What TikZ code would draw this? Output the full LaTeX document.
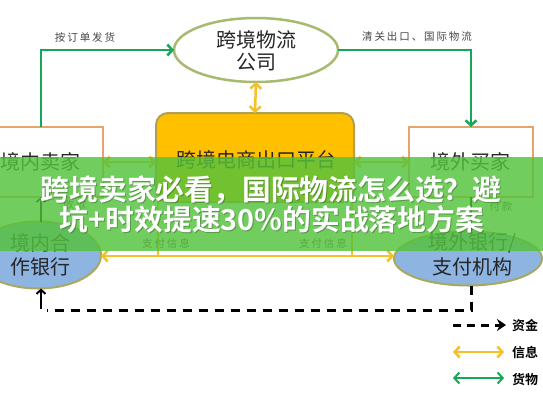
\documentclass[tikz,border=0pt]{standalone}
\usepackage{fontspec}
\setmainfont{Noto Sans CJK SC}[BoldFont={Noto Sans CJK SC Bold}]
\newfontfamily\labfont[LetterSpace=18]{Noto Sans CJK SC}
\usetikzlibrary{shapes.geometric,arrows.meta}
\definecolor{gline}{RGB}{24,166,88}
\definecolor{yline}{RGB}{246,192,40}
\definecolor{oline}{RGB}{232,164,104}
\definecolor{olive}{RGB}{166,186,112}
\definecolor{platfill}{RGB}{255,192,0}
\definecolor{platline}{RGB}{176,160,84}
\definecolor{bankfill}{RGB}{142,180,226}
\definecolor{bankline}{RGB}{168,168,96}
\definecolor{banner}{RGB}{84,194,60}
\definecolor{labgray}{RGB}{70,70,70}
\begin{document}
\begin{tikzpicture}[x=1pt,y=-1pt,
  every node/.style={inner sep=0pt,outer sep=0pt},
  boxnode/.style={draw=oline,line width=2.5pt,fill=white,minimum width=124pt,minimum height=70pt},
  ellnode/.style={ellipse,draw=olive,line width=2.5pt,fill=white},
  banknode/.style={ellipse,draw=bankline,line width=2pt,fill=bankfill},
  platnode/.style={draw=platline,line width=2pt,fill=platfill,rounded corners=12pt,minimum width=198pt,minimum height=89pt},
  bigtxt/.style={font=\fontsize{20}{22}\selectfont,text=black!85,align=center},
  labtxt/.style={font=\labfont\fontsize{10.5}{12}\selectfont,text=labgray},
  legtxt/.style={font=\bfseries\fontsize{13}{15}\selectfont,text=black,anchor=west},
  garrow/.style={draw=gline,line width=2.5pt,-{Straight Barb[length=5pt,width=11pt]}},
  yarrow/.style={draw=yline,line width=2.5pt,{Straight Barb[length=5pt,width=11pt]}-{Straight Barb[length=5pt,width=11pt]}},
  gdarrow/.style={draw=gline,line width=2pt,{Straight Barb[length=5pt,width=11pt]}-{Straight Barb[length=5pt,width=11pt]}},
  karrow/.style={draw=black,line width=1.6pt,-{Straight Barb[length=4pt,width=9pt]}},
  money/.style={draw=black,line width=3pt,dash pattern=on 9pt off 7pt},
  titletxt/.style={font=\bfseries\fontsize{28.8}{29}\selectfont,text=white}]
\clip (0,0) rectangle (543,408);
\fill[white] (0,0) rectangle (543,408);
% nodes
\node[ellnode,minimum width=164pt,minimum height=64pt] (lc) at (256,50) {};
\node[bigtxt] (lct) at (256,51) {跨境物流\\公司};
\node[boxnode] (s) at (41,162) {};
\node[bigtxt] (st) at (41,162) {境内卖家};
\node[boxnode] (b) at (471,162) {};
\node[bigtxt] (bt) at (470,162) {境外买家};
\node[platnode] (p) at (255,157.5) {};
\node[bigtxt] (pt) at (256,160) {跨境电商出口平台};
\node[banknode,minimum width=126pt,minimum height=67pt] (lb) at (38,255) {};
\node[bigtxt,font=\fontsize{20}{24}\selectfont] (lbt) at (40,255) {境内合\\作银行};
\node[banknode,minimum width=148pt,minimum height=54pt] (rb) at (468,258.5) {};
\node[bigtxt,font=\fontsize{20}{25}\selectfont] (rbt) at (472,254.5) {境外银行/\\支付机构};
% goods flow
\draw[garrow] (s.north) |- (lc.west);
\draw[garrow] (lc.east) -| (b.north);
\node[labtxt] (l1) at (85,37) {按订单发货};
\node[labtxt] (l2) at (417,37) {清关出口、国际物流};
% info flow
\draw[yarrow] (lc.south) -- (p.north);
\draw[yarrow] (s.east) -- (s.east -| p.west);
\draw[yarrow] (b.west -| p.east) -- (b.west);
\coordinate (pl) at (158,201);
\coordinate (pr) at (352,201);
\coordinate (yl) at (158,256);
\coordinate (yr) at (352,256);
\draw[yline,line width=1.5pt] (pl) -- (yl);
\draw[yline,line width=1.5pt] (pr) -- (yr);
\draw[yarrow] (lb.east |- yl) -- (rb.west |- yr);
\node[labtxt] (l3) at (166,243) {支付信息};
\node[labtxt] (l4) at (323,243) {支付信息};
% money flow
\draw[karrow] (lb.north -| s.south) -- (s.south);
\node[labtxt] (l5) at (75,205) {收款};
\draw[karrow] (b.south) -- (b.south |- rb.north);
\node[labtxt] (l6) at (501,207) {付款};
\coordinate (m1) at (471,310);
\coordinate (m2) at (47,310);
\coordinate (m3) at (41,309);
\draw[money] (rb.south -| m1) -- (m1) -- (m2);
\draw[karrow,line width=2pt] (m3) -- (m3 |- lb.south);
% legend
\coordinate (la1) at (453,325); \coordinate (la2) at (506,325);
\draw[money,dash pattern=on 8pt off 6pt,-{Stealth[length=9pt,width=12pt]}] (la1) -- (la2);
\node[legtxt] (lg1) at (512,325) {资金};
\coordinate (lb1) at (453,352); \coordinate (lb2) at (504,352);
\draw[yarrow] (lb1) -- (lb2);
\node[legtxt] (lg2) at (512,352) {信息};
\coordinate (lc1) at (453,378); \coordinate (lc2) at (504,378);
\draw[gdarrow] (lc1) -- (lc2);
\node[legtxt] (lg3) at (512,379) {货物};
% banner overlay
\fill[banner,opacity=0.82] (0,157) rectangle (543,251);
\node[titletxt,text=black,opacity=0.25] (t1s) at (272,191) {跨境卖家必看，国际物流怎么选？避};
\node[titletxt,text=black,opacity=0.25] (t2s) at (273,220) {坑+时效提速30\%的实战落地方案};
\node[titletxt] (t1) at (271,190) {跨境卖家必看，国际物流怎么选？避};
\node[titletxt] (t2) at (272,219) {坑+时效提速30\%的实战落地方案};
\end{tikzpicture}
\end{document}
